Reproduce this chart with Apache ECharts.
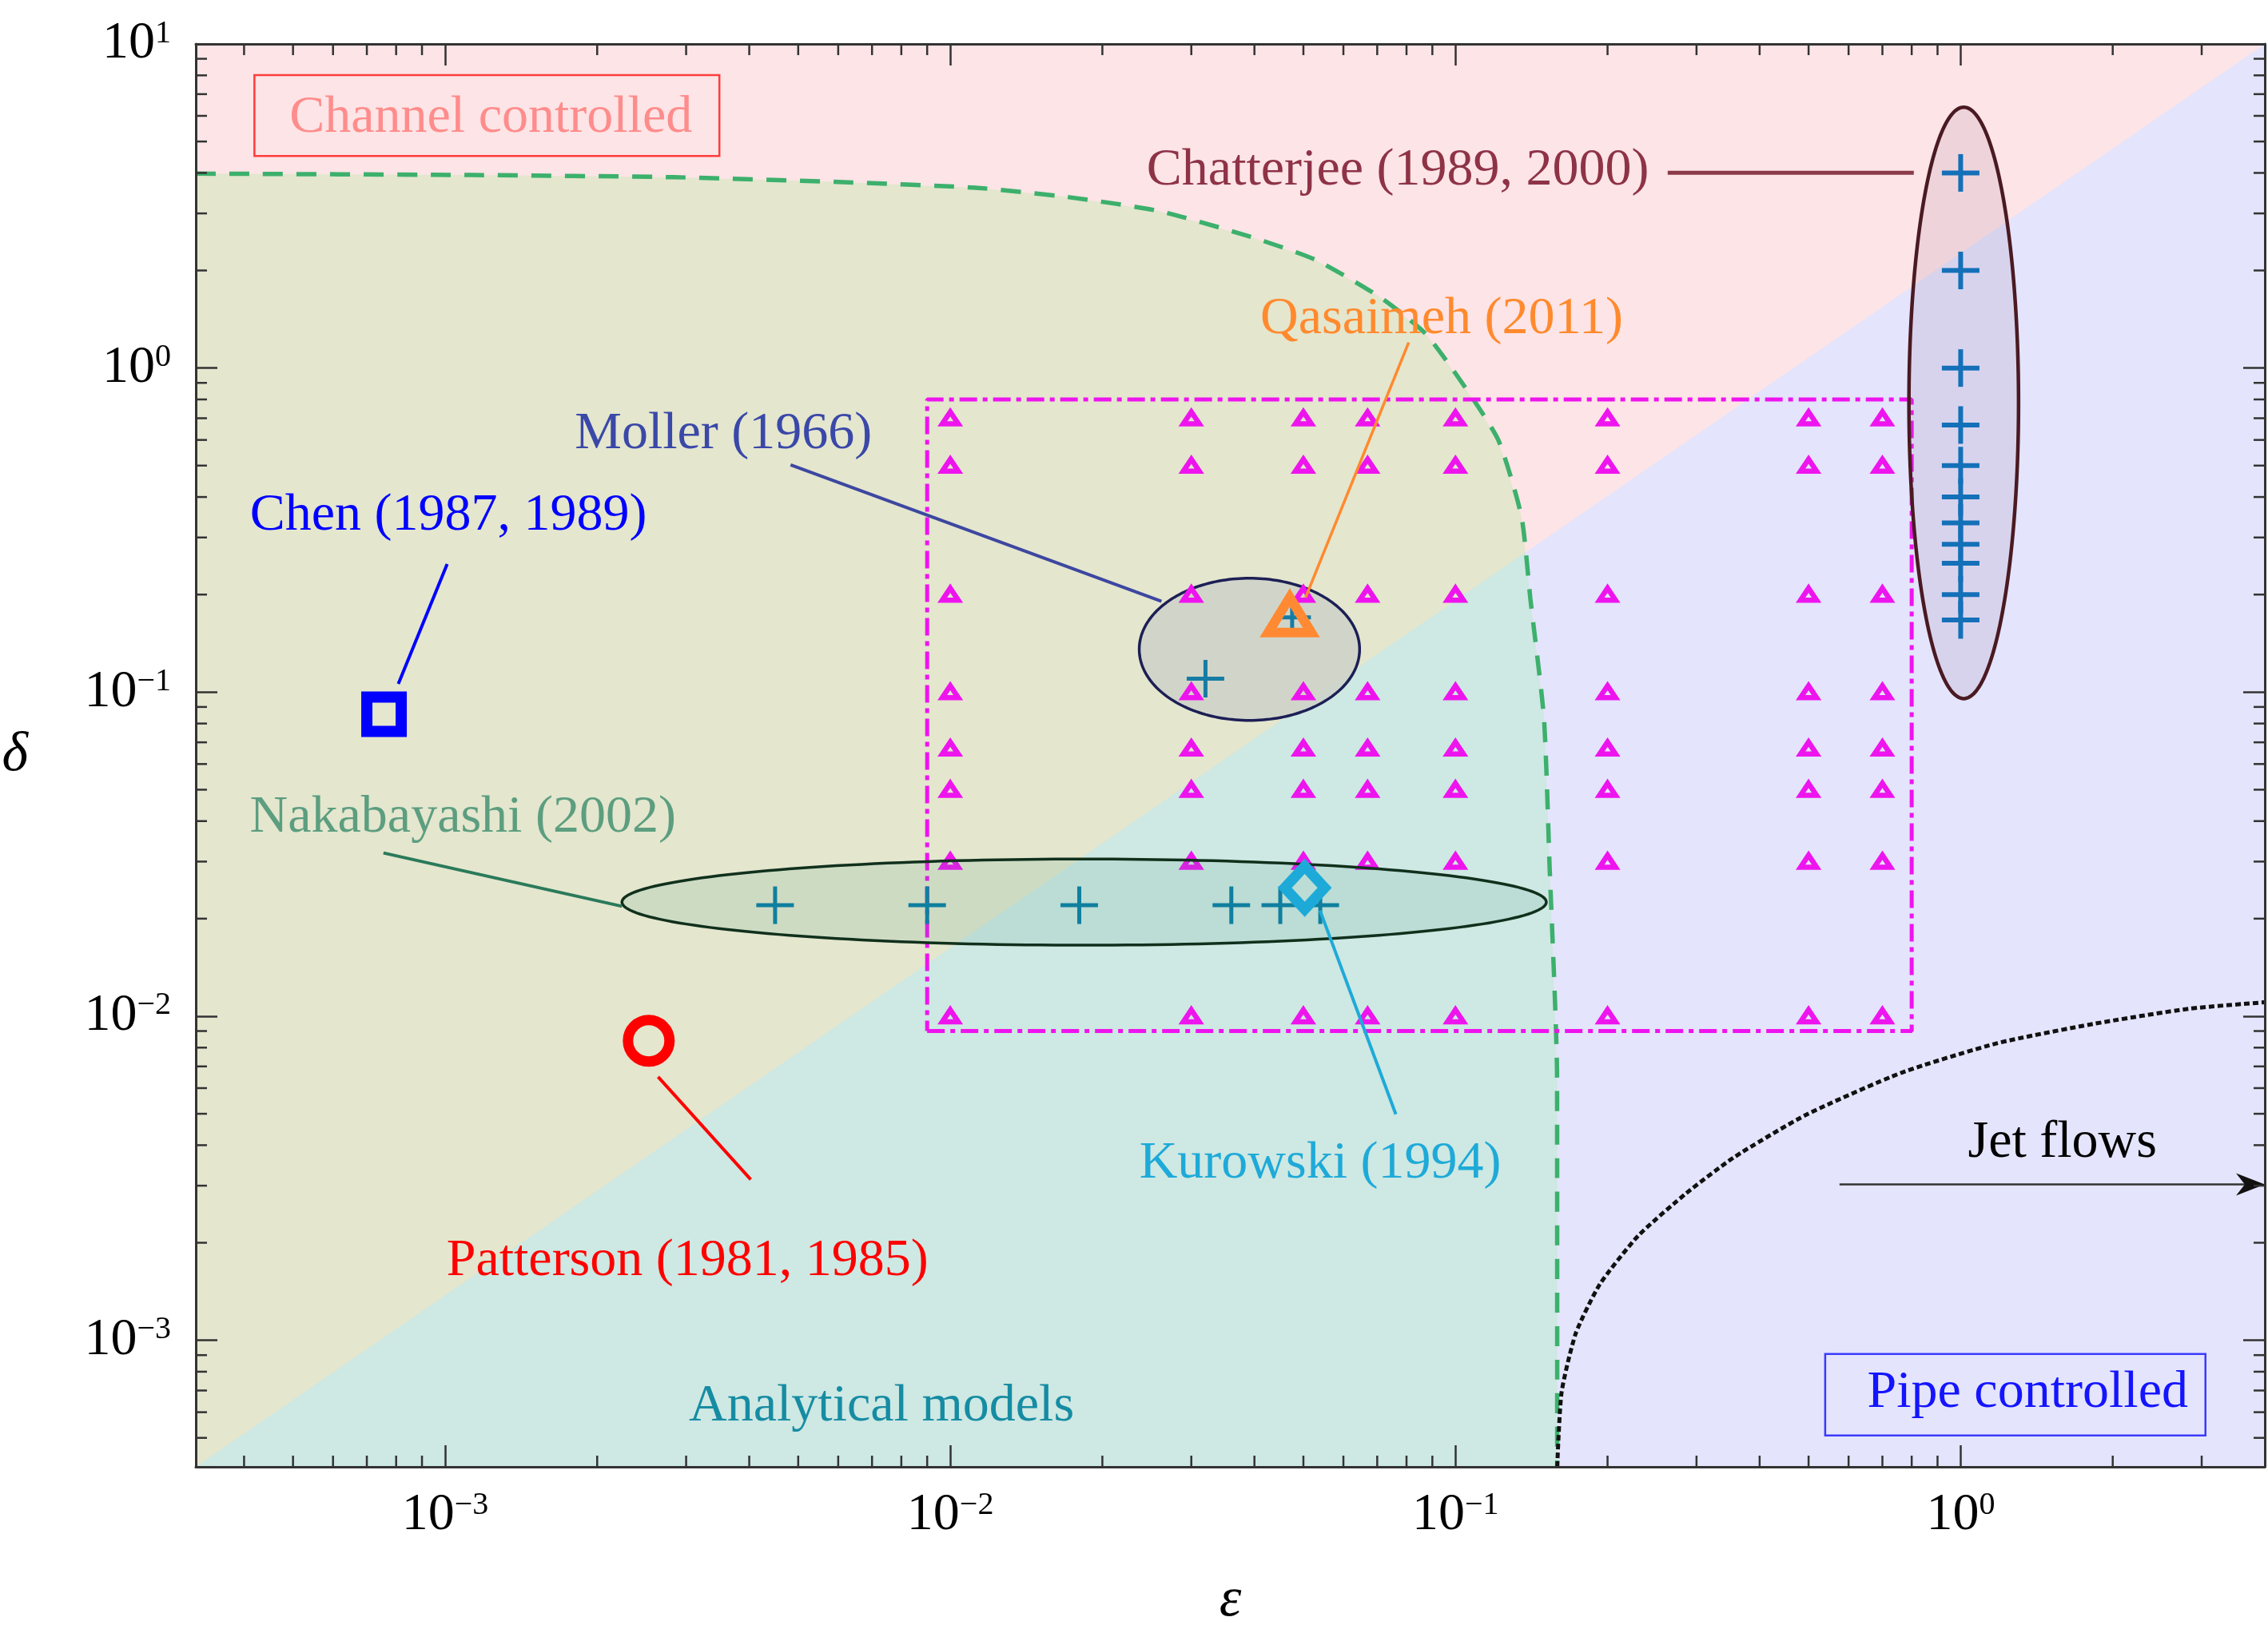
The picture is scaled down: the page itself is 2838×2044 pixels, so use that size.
<!DOCTYPE html>
<html>
<head>
<meta charset="utf-8">
<script src="https://cdn.jsdelivr.net/npm/echarts@6.0.0/dist/echarts.min.js"></script>
<style>html,body{margin:0;padding:0;background:#fff}#c{width:2838px;height:2044px}</style>
</head>
<body>
<div id="c"></div>
<script>
// ---------------- data ----------------
const epsRange = [3.21e-4, 4.0];
const deltaRange = [4.07e-4, 10];

// magenta parametric grid (triangles) and its dash-dot bounding box
const gridEps = [0.01, 0.03, 0.05, 0.067, 0.1, 0.2, 0.5, 0.7];
const gridDelta = [0.7, 0.5, 0.2, 0.1, 0.067, 0.05, 0.03, 0.01];
const gridBox = [0.009, 0.8];

// studies
const chatterjeeEps = [1, 1, 1, 1, 1, 1, 1, 1, 1, 1, 1];
const chatterjeeDelta = [4, 2, 1, 0.667, 0.5, 0.4, 0.333, 0.286, 0.25, 0.2, 0.167];
const nakabayashiEps = [0.0045, 0.009, 0.018, 0.036, 0.045, 0.054];
const nakabayashiDelta = [0.022, 0.022, 0.022, 0.022, 0.022, 0.022];
const mollerEps = [0.032, 0.0475];
const mollerDelta = [0.11, 0.17];
const chenPoint = [7.57e-4, 0.0854];
const pattersonPoint = [2.53e-3, 8.4e-3];
const kurowskiPoint = [0.0503, 0.0249];
const qasaimehPoint = [0.047, 0.172];

// ellipses: [epsMin, epsMax, deltaMin, deltaMax]
const chatterjeeEllipse = [0.790, 1.302, 0.0955, 6.38];
const mollerEllipse = [0.02366, 0.0646, 0.0818, 0.2246];
const nakabayashiEllipse = [0.002239, 0.1513, 0.01656, 0.03055];

// regime boundary (dashed green) and jet-flow boundary (dotted black)
const regimeCurve = [
  [3.21e-4, 3.98], [1.125e-3, 3.94], [2.83e-3, 3.88], [6.01e-3, 3.75], [0.01123, 3.60],
  [0.01708, 3.37], [0.02592, 3.05], [0.03932, 2.54], [0.05273, 2.16], [0.07067, 1.66],
  [0.0871, 1.28], [0.1028, 0.905], [0.1216, 0.599], [0.1351, 0.3476], [0.1407, 0.194],
  [0.1497, 0.0829], [0.1535, 0.0296], [0.1589, 0.00644], [0.1590, 4.07e-4]
];
const jetCurve = [
  [0.1590, 4.07e-4], [0.1622, 6.91e-4], [0.1731, 1.052e-3], [0.1931, 1.489e-3], [0.2299, 2.10e-3],
  [0.2861, 2.84e-3], [0.356, 3.67e-3], [0.494, 4.96e-3], [0.765, 6.70e-3], [1.184, 8.26e-3],
  [1.833, 9.47e-3], [2.838, 0.01055], [4.0, 0.01104]
];
// channel/pipe boundary: straight line in log-log from corner to corner
const channelPipeLine = [[3.21e-4, 4.07e-4], [4.0, 10]];

// annotation anchors (data coordinates)
const labelTexts = ['Channel controlled', 'Chatterjee (1989, 2000)', 'Qasaimeh (2011)', 'Moller (1966)',
  'Chen (1987, 1989)', 'Nakabayashi (2002)', 'Kurowski (1994)', 'Jet flows',
  'Patterson (1981, 1985)', 'Analytical models', 'Pipe controlled'];
const labelEps = [1.232e-3, 0.0769, 0.0939, 3.556e-3, 1.015e-3, 1.0846e-3, 0.054, 1.590, 3.018e-3, 7.31e-3, 1.357];
const labelDelta = [6.063, 4.17, 1.458, 0.6421, 0.3597, 0.04216, 3.612e-3, 4.169e-3, 1.804e-3, 6.42e-4, 7.07e-4];
const leaderNames = ['Chatterjee', 'Qasaimeh', 'Moller', 'Chen', 'Nakabayashi', 'Patterson', 'Kurowski'];
const leaderFrom = [[0.2631, 4.006], [0.0808, 1.199], [4.83e-3, 0.5028], [1.0095e-3, 0.2483], [7.55e-4, 0.0319], [2.64e-3, 6.50e-3], [0.05393, 0.0212]];
const leaderTo = [[0.8078, 4.006], [0.0505, 0.1958], [0.02618, 0.1906], [8.08e-4, 0.1060], [2.239e-3, 0.02184], [4.027e-3, 3.134e-3], [0.0762, 4.983e-3]];
const channelBox = [4.193e-4, 3.491e-3, 4.513, 8.012];
const pipeBox = [0.5393, 3.052, 5.085e-4, 9.08e-4];
const jetArrow = [[0.5757, 3.025e-3], [4.0, 3.025e-3]];

// ---------------- styles ----------------
const FONT = '"Liberation Serif","Times New Roman",Times,serif';
const C = {
  pink: '#fde4e6', olive: '#e4e6ce', teal: '#cee8e3', lavender: '#e4e4fc',
  dashed: '#3cb06c', magenta: '#ee14ee', axis: '#333333'
};
const labelColors = ['#ff8c8c', '#8e3347', '#ff8a2e', '#3a48a8', '#0000ff', '#5c9e7f', '#1eaad8', '#000000', '#ff0000', '#168ca3', '#1414ff'];
const leaderColors = ['#8b3a4a', '#ff8a2e', '#3d47a0', '#0000ff', '#2a7a5a', '#ff0000', '#1eaad8'];
const leaderWidths = [5, 3.5, 4, 4, 4, 4, 4];
const LABEL_DY = 5; // canvas middle-baseline vs cap-centre correction (px)

// ---------------- helpers ----------------
const zip = (a, b) => a.map((v, i) => [v, b[i]]);
function ellipsePts(api, box) {
  const a = api.coord([box[0], box[2]]), b = api.coord([box[1], box[3]]);
  const cx = (a[0] + b[0]) / 2, cy = (a[1] + b[1]) / 2;
  const rx = Math.abs(b[0] - a[0]) / 2, ry = Math.abs(b[1] - a[1]) / 2;
  const pts = [];
  for (let i = 0; i < 200; i++) {
    const t = 2 * Math.PI * i / 200;
    pts.push([cx + rx * Math.cos(t), cy + ry * Math.sin(t)]);
  }
  return pts;
}
function powerLabel(v) {
  const e = Math.log10(v), r = Math.round(e);
  if (Math.abs(e - r) > 1e-6) return '';
  return '{b|10}{s|' + (r < 0 ? '\u2212' + (-r) : String(r)) + '}';
}
const richLabel = {
  b: { fontSize: 66, fontFamily: FONT, color: '#000', lineHeight: 66 },
  s: { fontSize: 40, fontFamily: FONT, color: '#000', lineHeight: 40, verticalAlign: 'top' }
};
function minorTicks(range) {
  const out = [];
  for (let k = -5; k <= 1; k++) for (let m = 2; m <= 9; m++) {
    const v = m * Math.pow(10, k);
    if (v > range[0] && v < range[1]) out.push(v);
  }
  return out;
}
function axisCommon(pos, showLabel, range) {
  return {
    type: 'log', logBase: 10, min: range[0], max: range[1], position: pos, z: 20,
    splitLine: { show: false }, minorTick: { show: false },
    axisLine: { show: true, onZero: false, lineStyle: { color: C.axis, width: 3 } },
    axisTick: { show: true, inside: true, length: 27, lineStyle: { color: C.axis, width: 2.5 } },
    axisLabel: { show: showLabel, formatter: powerLabel, rich: richLabel, fontFamily: FONT }
  };
}

// ---------------- chart ----------------
const chart = echarts.init(document.getElementById('c'));

const xBottom = axisCommon('bottom', true, epsRange);
xBottom.axisLabel.margin = 28;
xBottom.name = '\u03b5'; xBottom.nameLocation = 'middle'; xBottom.nameGap = 133;
xBottom.nameTextStyle = { fontSize: 70, fontStyle: 'italic', fontFamily: FONT, color: '#000' };
const xTop = axisCommon('top', false, epsRange);
const yLeft = axisCommon('left', true, deltaRange);
yLeft.axisLabel.margin = 31;
yLeft.name = '\u03b4'; yLeft.nameLocation = 'middle'; yLeft.nameGap = 210; yLeft.nameRotate = 0;
yLeft.nameTextStyle = { fontSize: 70, fontStyle: 'italic', fontFamily: FONT, color: '#000' };
const yRight = axisCommon('right', false, deltaRange);

function regionsRender(params, api) {
  const A = api.coord(channelPipeLine[0]), B = api.coord(channelPipeLine[1]);
  const BR = api.coord([epsRange[1], deltaRange[0]]);
  const TL = api.coord([epsRange[0], deltaRange[1]]);
  const curve = regimeCurve.map(p => api.coord(p));
  const side = p => (B[0] - A[0]) * (p[1] - A[1]) - (B[1] - A[1]) * (p[0] - A[0]);
  const s0 = side(curve[0]);
  let k = 1;
  for (; k < curve.length; k++) if (side(curve[k]) * s0 < 0) break;
  const p0 = curve[k - 1], p1 = curve[k];
  const f0 = side(p0), f1 = side(p1), t = f0 / (f0 - f1);
  const I = [p0[0] + t * (p1[0] - p0[0]), p0[1] + t * (p1[1] - p0[1])];
  return {
    type: 'group', children: [
      { type: 'polygon', shape: { points: [A, BR, B, TL] }, style: { fill: C.pink } },
      { type: 'polygon', shape: { points: [A, B, BR] }, style: { fill: C.lavender } },
      { type: 'polygon', shape: { points: [A].concat(curve) }, style: { fill: C.olive } },
      { type: 'polygon', shape: { points: [A, I].concat(curve.slice(k)) }, style: { fill: C.teal } }
    ]
  };
}

function ellipseSeries(box, fill, stroke, lw, z) {
  return {
    type: 'custom', coordinateSystem: 'cartesian2d', z: z, silent: true, clip: false,
    data: [[box[0], box[2]]],
    renderItem: (p, api) => ({
      type: 'polygon', shape: { points: ellipsePts(api, box) },
      style: { fill: fill, stroke: stroke, lineWidth: lw }
    })
  };
}
function plusSeries(pts, color, half, lw, z) {
  return {
    type: 'custom', coordinateSystem: 'cartesian2d', z: z, silent: true, clip: false, data: pts,
    renderItem: (p, api) => {
      const c = api.coord([api.value(0), api.value(1)]);
      const st = { stroke: color, lineWidth: lw };
      return { type: 'group', children: [
        { type: 'line', shape: { x1: c[0] - half, y1: c[1], x2: c[0] + half, y2: c[1] }, style: st },
        { type: 'line', shape: { x1: c[0], y1: c[1] - half, x2: c[0], y2: c[1] + half }, style: st }
      ] };
    }
  };
}
function shapeSeries(pts, rel, color, lw, z) {
  return {
    type: 'custom', coordinateSystem: 'cartesian2d', z: z, silent: true, clip: false, data: pts,
    renderItem: (p, api) => {
      const c = api.coord([api.value(0), api.value(1)]);
      return { type: 'polygon', shape: { points: rel.map(q => [c[0] + q[0], c[1] + q[1]]) },
        style: { fill: 'none', stroke: color, lineWidth: lw, lineJoin: 'miter', miterLimit: 10 } };
    }
  };
}

const gridPoints = [];
gridEps.forEach(e => gridDelta.forEach(d => gridPoints.push([e, d])));

const series = [
  { type: 'custom', coordinateSystem: 'cartesian2d', z: 1, silent: true, clip: true,
    data: [[1e-2, 1e-2]], renderItem: regionsRender },
  { type: 'line', data: regimeCurve, symbol: 'none', smooth: 0.2, z: 3, silent: true,
    lineStyle: { color: C.dashed, width: 5.5, type: [25, 17] } },
  { type: 'line', data: jetCurve, symbol: 'none', smooth: 0.2, z: 3, silent: true,
    lineStyle: { color: '#111', width: 5, type: [7, 4] } },
  { type: 'line', symbol: 'none', z: 3, silent: true,
    data: [[gridBox[0], gridBox[0]], [gridBox[1], gridBox[0]], [gridBox[1], gridBox[1]], [gridBox[0], gridBox[1]], [gridBox[0], gridBox[0]]],
    lineStyle: { color: C.magenta, width: 5, type: [22, 7, 6, 7] } },
  ellipseSeries(mollerEllipse, 'rgba(206,209,200,0.85)', '#1c1f55', 3.5, 4),
  shapeSeries(gridPoints, [[0, -8], [10, 7], [-10, 7]], C.magenta, 6.5, 5),
  ellipseSeries(nakabayashiEllipse, 'rgba(60,150,120,0.13)', '#10301c', 3.5, 6),
  ellipseSeries(chatterjeeEllipse, 'rgba(140,100,140,0.13)', '#4a1a22', 4.5, 6),
  plusSeries(zip(chatterjeeEps, chatterjeeDelta), '#1470b8', 23.5, 6, 7),
  plusSeries(zip(nakabayashiEps, nakabayashiDelta), '#0f7f9f', 23.5, 5, 7),
  plusSeries(zip(mollerEps, mollerDelta), '#167ca4', 23.5, 5, 7),
  shapeSeries([qasaimehPoint], [[0, -23], [27, 21], [-27, 21]], '#ff8a33', 12, 8),
  shapeSeries([chenPoint], [[-21.5, -21.5], [21.5, -21.5], [21.5, 21.5], [-21.5, 21.5]], '#0000ff', 14, 8),
  shapeSeries([kurowskiPoint], [[0, -27], [25, 0], [0, 27], [-25, 0]], '#1eaad8', 13, 8),
  { type: 'custom', coordinateSystem: 'cartesian2d', z: 8, silent: true, clip: false, data: [pattersonPoint],
    renderItem: (p, api) => {
      const c = api.coord([api.value(0), api.value(1)]);
      return { type: 'circle', shape: { cx: c[0], cy: c[1], r: 26 }, style: { fill: 'none', stroke: '#ff0000', lineWidth: 13 } };
    } },
  // leader lines
  { type: 'custom', coordinateSystem: 'cartesian2d', z: 9, silent: true, clip: false,
    data: leaderFrom.map((f, i) => [f[0], f[1], leaderTo[i][0], leaderTo[i][1]]),
    renderItem: (p, api) => {
      const a = api.coord([api.value(0), api.value(1)]), b = api.coord([api.value(2), api.value(3)]);
      const i = p.dataIndex;
      return { type: 'line', shape: { x1: a[0], y1: a[1], x2: b[0], y2: b[1] },
        style: { stroke: leaderColors[i], lineWidth: leaderWidths[i] } };
    } },
  // jet flows arrow
  { type: 'custom', coordinateSystem: 'cartesian2d', z: 9, silent: true, clip: false,
    data: [[jetArrow[0][0], jetArrow[0][1], jetArrow[1][0], jetArrow[1][1]]],
    renderItem: (p, api) => {
      const a = api.coord([api.value(0), api.value(1)]), b = api.coord([api.value(2), api.value(3)]);
      return { type: 'group', children: [
        { type: 'line', shape: { x1: a[0], y1: a[1], x2: b[0] - 20, y2: b[1] }, style: { stroke: '#333', lineWidth: 2.5 } },
        { type: 'polygon', shape: { points: [[b[0], b[1]], [b[0] - 36, b[1] - 14], [b[0] - 25, b[1]], [b[0] - 36, b[1] + 14]] }, style: { fill: '#111' } }
      ] };
    } },
  // boxes
  { type: 'custom', coordinateSystem: 'cartesian2d', z: 9, silent: true, clip: false,
    data: [channelBox, pipeBox],
    renderItem: (p, api) => {
      const a = api.coord([api.value(0), api.value(3)]), b = api.coord([api.value(1), api.value(2)]);
      return { type: 'rect', shape: { x: a[0], y: a[1], width: b[0] - a[0], height: b[1] - a[1] },
        style: { fill: 'none', stroke: p.dataIndex === 0 ? '#ff3c3c' : '#3a3aff', lineWidth: 2.5 } };
    } },
  // labels
  { type: 'custom', coordinateSystem: 'cartesian2d', z: 10, silent: true, clip: false,
    data: zip(labelEps, labelDelta),
    renderItem: (p, api) => {
      const c = api.coord([api.value(0), api.value(1)]);
      const i = p.dataIndex;
      return { type: 'text', x: c[0], y: c[1] + LABEL_DY,
        style: { text: labelTexts[i], fill: labelColors[i], fontSize: 66, fontFamily: FONT,
          align: 'center', verticalAlign: 'middle', textAlign: 'center', textVerticalAlign: 'middle' } };
    } },
  // minor ticks on x (bottom & top)
  { type: 'custom', coordinateSystem: 'cartesian2d', z: 22, silent: true, clip: false,
    data: minorTicks(epsRange).map(v => [v, deltaRange[0]]),
    renderItem: (p, api) => {
      const x = api.coord([api.value(0), deltaRange[0]])[0], cs = p.coordSys;
      const st = { stroke: C.axis, lineWidth: 2.5 };
      return { type: 'group', children: [
        { type: 'line', shape: { x1: x, y1: cs.y + cs.height, x2: x, y2: cs.y + cs.height - 14 }, style: st },
        { type: 'line', shape: { x1: x, y1: cs.y, x2: x, y2: cs.y + 14 }, style: st }
      ] };
    } },
  // minor ticks on y (left & right)
  { type: 'custom', coordinateSystem: 'cartesian2d', z: 22, silent: true, clip: false,
    data: minorTicks(deltaRange).map(v => [epsRange[0], v]),
    renderItem: (p, api) => {
      const y = api.coord([epsRange[0], api.value(1)])[1], cs = p.coordSys;
      const st = { stroke: C.axis, lineWidth: 2.5 };
      return { type: 'group', children: [
        { type: 'line', shape: { x1: cs.x, y1: y, x2: cs.x + 14, y2: y }, style: st },
        { type: 'line', shape: { x1: cs.x + cs.width, y1: y, x2: cs.x + cs.width - 14, y2: y }, style: st }
      ] };
    } }
];

chart.setOption({
  animation: false,
  backgroundColor: '#ffffff',
  grid: { left: 245, top: 55, width: 2589, height: 1781, containLabel: false, outerBoundsMode: 'none' },
  xAxis: [xBottom, xTop],
  yAxis: [yLeft, yRight],
  series: series
});
</script>
</body>
</html>
